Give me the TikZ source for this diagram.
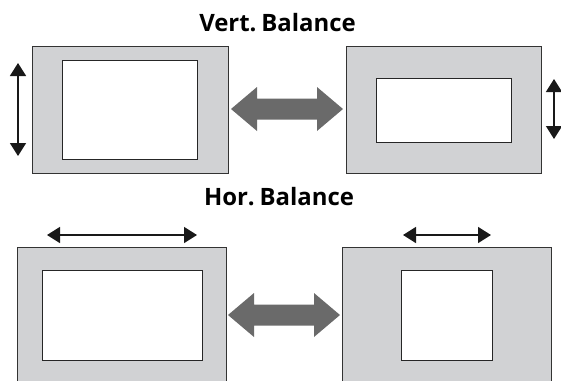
\documentclass[tikz,border=0pt]{standalone}
\usepackage{fontspec}
\setmainfont{Open Sans}
\usetikzlibrary{arrows.meta,calc}
\tikzset{
  outerbox/.style={draw=black!80, line width=0.9bp, fill=outergray, inner sep=0pt, outer sep=0pt},
  innerbox/.style={draw=black!85, line width=0.9bp, fill=white, inner sep=0pt, outer sep=0pt},
  dimarrow/.style={draw=black!90, line width=1.6bp, {Triangle[length=13bp,width=16bp]}-{Triangle[length=13bp,width=16bp]}},
  titletext/.style={font=\fontsize{24}{26}\selectfont\bfseries, inner sep=0pt, anchor=base},
  fatarrow/.style={fill=arrowgray, draw=none}
}
\definecolor{outergray}{HTML}{D1D2D4}
\definecolor{arrowgray}{HTML}{6A6A6A}
\begin{document}
\begin{tikzpicture}[x=1bp,y=-1bp]
\useasboundingbox (0,0) rectangle (561,380);
\clip (0,0) rectangle (561,380);
% titles
\node[titletext] (t1) at (277.5,31) {Vert.\hspace{0.2em}Balance};
\node[titletext] (t2) at (279,205) {Hor.\hspace{0.2em}Balance};
% top-left
\draw[outerbox] (32,46) rectangle (228,173);
\draw[innerbox] (62,60) rectangle (197,159);
% top-right
\draw[outerbox] (346,46) rectangle (541,173);
\draw[innerbox] (376,78) rectangle (511,142);
% bottom-left
\draw[outerbox] (17,247) rectangle (226,395);
\draw[innerbox] (42,270) rectangle (202,360);
% bottom-right
\draw[outerbox] (342,247) rectangle (551,395);
\draw[innerbox] (401,270) rectangle (492,360);
% dimension arrows
\coordinate (v1a) at (18,63);  \coordinate (v1b) at (18,156);
\coordinate (v2a) at (554,79); \coordinate (v2b) at (554,139);
\coordinate (h1a) at (47,235); \coordinate (h1b) at (197,235);
\coordinate (h2a) at (403,235); \coordinate (h2b) at (491,235);
\draw[dimarrow] (v1a) -- (v1b);
\draw[dimarrow] (v2a) -- (v2b);
\draw[dimarrow] (h1a) -- (h1b);
\draw[dimarrow] (h2a) -- (h2b);
% fat double arrows
\foreach \lx/\rx/\cy in {231/343/109, 228/340/315}{
  \fill[fatarrow] (\lx,\cy) -- (\lx+26,\cy-22) -- (\lx+26,\cy-10.5) -- (\rx-26,\cy-10.5)
     -- (\rx-26,\cy-22) -- (\rx,\cy) -- (\rx-26,\cy+22) -- (\rx-26,\cy+10.5)
     -- (\lx+26,\cy+10.5) -- (\lx+26,\cy+22) -- cycle;
}
\end{tikzpicture}
\end{document}
